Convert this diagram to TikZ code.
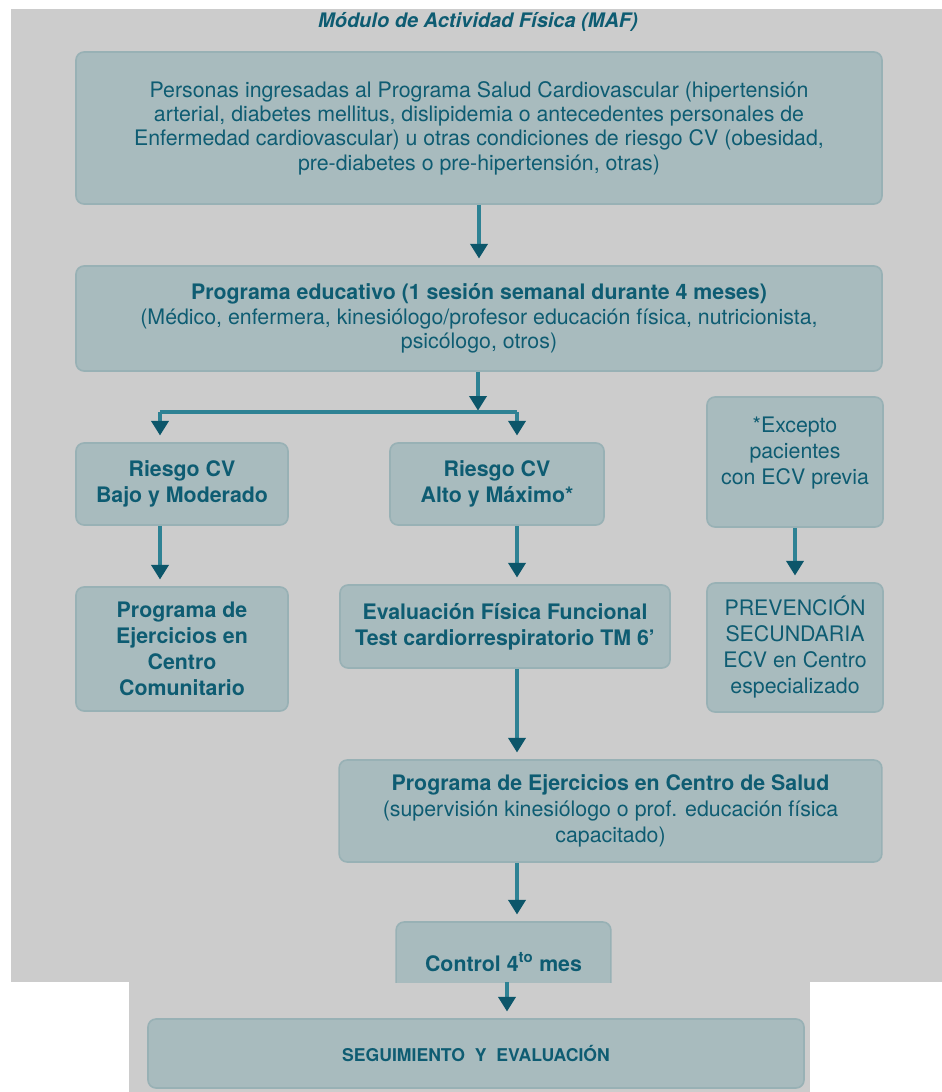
\documentclass[tikz,border=0pt]{standalone}
\usepackage{fontspec}
\setmainfont{TeX Gyre Heros}
\usetikzlibrary{arrows.meta}

\definecolor{pagegray}{HTML}{CCCCCC}
\definecolor{boxfill}{HTML}{A8BBBE}
\definecolor{boxline}{HTML}{98B1B5}
\definecolor{tealtext}{HTML}{0E5C72}
\definecolor{tealline}{HTML}{2E8294}
\definecolor{tealhead}{HTML}{0C566A}

\begin{document}
\begin{tikzpicture}[
    x=0.75pt, y=-0.75pt,
    block/.style={rectangle, draw=boxline, fill=boxfill, line width=1.2pt, rounded corners=6pt, align=center, text=tealtext, inner sep=2pt, font=\fontsize{16}{19.5}\selectfont},
    blockb/.style={block, font=\fontsize{16}{19.5}\selectfont\bfseries},
    arrow/.style={-{Triangle[width=12.75pt, length=11pt, color=tealhead]}, line width=3pt, draw=tealline, shorten >=5pt},
    line/.style={line width=3pt, draw=tealline}
]
    % page background
    \useasboundingbox (0,0) rectangle (942,1092);
    \fill[pagegray] (11,9) rectangle (942,982);
    \fill[pagegray] (129,982) rectangle (810,1092);

    \node[text=tealtext, font=\fontsize{15}{17}\selectfont\bfseries\itshape] (titulo) at (478,22) {Módulo de Actividad Física (MAF)};

    \node[block, minimum width=604.5pt, minimum height=114pt, font=\fontsize{16}{18.3}\selectfont] (ingreso) at (479,128) {Personas ingresadas al Programa Salud Cardiovascular (hipertensión\\ arterial, diabetes mellitus, dislipidemia o antecedentes personales de\\ Enfermedad cardiovascular) u otras condiciones de riesgo CV (obesidad,\\ pre-diabetes o pre-hipertensión, otras)};
    \node[block, minimum width=604.5pt, minimum height=78.75pt, font=\fontsize{16}{18.3}\selectfont] (educativo) at (479,318.5) {\textbf{Programa educativo (1 sesión semanal durante 4 meses)}\\ (Médico, enfermera, kinesiólogo/profesor educación física, nutricionista,\\ psicólogo, otros)};

    \node[blockb, minimum width=159pt, minimum height=61.5pt] (bajo) at (182,484) {Riesgo CV\\ Bajo y Moderado};
    \node[blockb, minimum width=160.5pt, minimum height=61.5pt] (alto) at (497,484) {Riesgo CV\\ Alto y Máximo*};
    \node[block, minimum width=132pt, minimum height=97.5pt] (excepto) at (795,462) {*Excepto\\ pacientes\\ con ECV previa\\[-3pt]};

    \node[blockb, minimum width=159pt, minimum height=93pt] (comunitario) at (182,649) {Programa de\\ Ejercicios en\\ Centro\\ Comunitario};
    \node[blockb, minimum width=247.5pt, minimum height=62.25pt] (evaluacion) at (505,626.5) {Evaluación Física Funcional\\ Test cardiorrespiratorio TM 6'};
    \node[block, minimum width=132pt, minimum height=96.75pt] (prevencion) at (795,647.5) {PREVENCIÓN\\ SECUNDARIA\\ ECV en Centro\\ especializado};

    \node[block, minimum width=407pt, minimum height=76.5pt] (salud) at (610.5,811) {\textbf{Programa de Ejercicios en Centro de Salud}\\ (supervisión kinesiólogo o prof. educación física\\ capacitado)};

    \begin{scope}
        \clip (0,0) rectangle (942,982);
        \node[blockb, minimum width=161pt, minimum height=60pt] (control) at (503.5,962) {Control 4\textsuperscript{to} mes};
    \end{scope}

    \node[blockb, minimum width=492pt, minimum height=51.75pt, font=\fontsize{13.2}{15}\selectfont\bfseries] (seguimiento) at (476,1053.5) {SEGUIMIENTO\ \ Y\ \ EVALUACIÓN};

    % connectors
    \coordinate (splitL) at (160,412);
    \coordinate (splitM) at (478,412);
    \coordinate (splitR) at (517,412);
    \coordinate (cut) at (507,982);

    \draw[arrow] (ingreso) -- (educativo);
    \draw[arrow, shorten >=1pt] (educativo.south -| splitM) -- (splitM);
    \draw[line] (splitL) -- (splitR);
    \draw[arrow] (splitL) -- (splitL |- bajo.north);
    \draw[arrow] (splitR) -- (splitR |- alto.north);
    \draw[arrow] (bajo.south -| splitL) -- (comunitario.north -| splitL);
    \draw[arrow] (alto.south -| splitR) -- (evaluacion.north -| splitR);
    \draw[arrow] (excepto) -- (prevencion);
    \draw[arrow] (evaluacion.south -| splitR) -- (salud.north -| splitR);
    \draw[arrow] (salud.south -| splitR) -- (control.north -| splitR);
    \draw[arrow] (cut) -- (cut |- seguimiento.north);
\end{tikzpicture}
\end{document}
